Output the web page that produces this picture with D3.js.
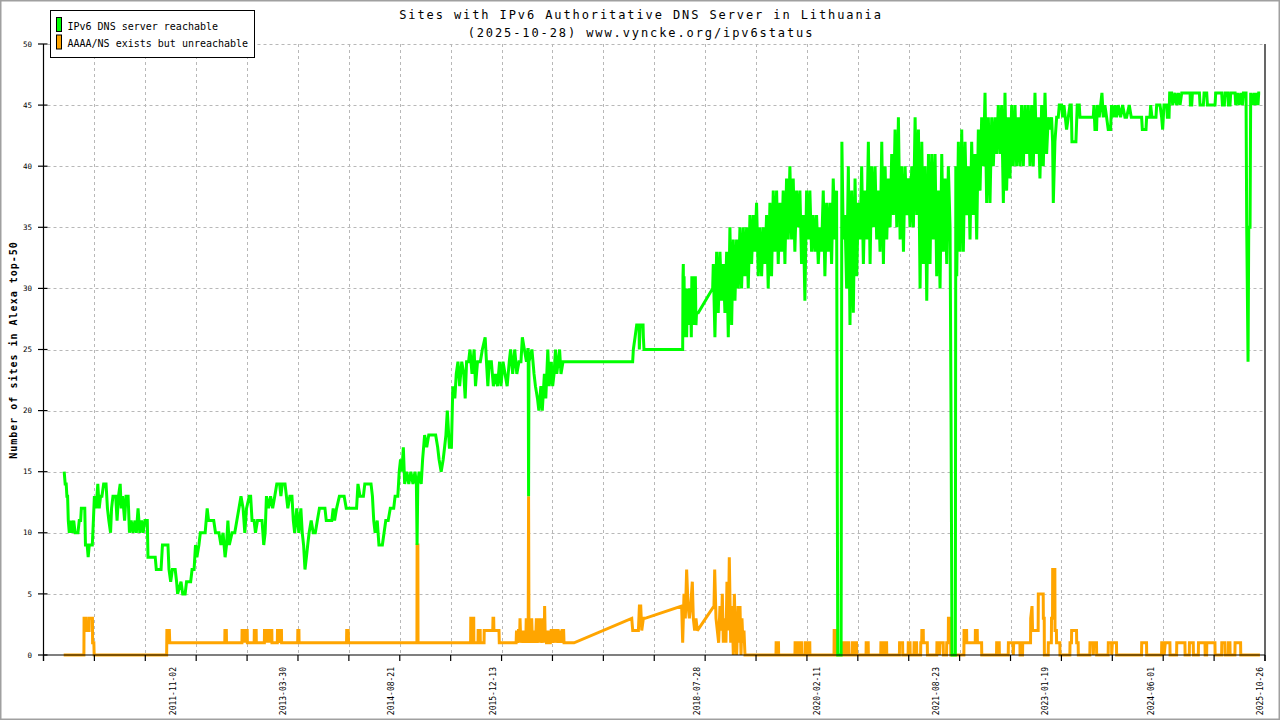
<!DOCTYPE html>
<html><head><meta charset="utf-8">
<script src="https://cdn.jsdelivr.net/npm/d3@7"></script>
<style>html,body{margin:0;padding:0;background:#fff;overflow:hidden}svg{display:block}</style>
</head><body>
<svg id="chart" width="1280" height="720"></svg>
<script>
// ---------- data ----------
const titleLines = ["Sites with IPv6 Authoritative DNS Server in Lithuania", "(2025-10-28) www.vyncke.org/ipv6status"];
const seriesNames = ["IPv6 DNS server reachable", "AAAA/NS exists but unreachable"];
const seriesColors = ["#00ff00", "#ffa500"];
const yAxisTitle = "Number of sites in Alexa top-50";
const yTickValues = [0, 5, 10, 15, 20, 25, 30, 35, 40, 45, 50];
const xLabelDates = ["2011-11-02", "2013-03-30", "2014-08-21", "2015-12-13", "2018-07-28", "2020-02-11", "2021-08-23", "2023-01-19", "2024-06-01", "2025-10-26"];
const xDomainDates = ["2010-03-04", "2025-11-19"];
const xTickCount = 25;

// [decimal year, sites]
const reachable = [
[2010.436,15],[2010.449,14],[2010.462,14],[2010.471,13],[2010.48,13],[2010.489,11],[2010.502,10],[2010.524,11],[2010.537,10],[2010.559,11],[2010.577,10],[2010.613,10],[2010.63,11],[2010.648,11],[2010.657,12],[2010.701,12],[2010.71,9],[2010.732,9],[2010.745,8],[2010.759,9],[2010.798,9],[2010.812,11],[2010.825,13],[2010.847,12],[2010.869,14],[2010.887,12],[2010.905,13],[2010.922,13],[2010.944,14],[2010.975,14],[2010.993,12],[2011.011,11],[2011.033,10],[2011.046,12],[2011.064,13],[2011.099,13],[2011.117,11],[2011.135,13],[2011.157,14],[2011.17,12],[2011.188,13],[2011.214,11],[2011.232,13],[2011.259,13],[2011.276,10],[2011.298,11],[2011.321,10],[2011.347,11],[2011.365,10],[2011.387,12],[2011.409,10],[2011.431,11],[2011.453,10],[2011.475,11],[2011.506,11],[2011.515,8],[2011.608,8],[2011.622,7],[2011.683,7],[2011.701,9],[2011.772,9],[2011.785,7],[2011.807,6],[2011.829,7],[2011.865,7],[2011.883,6],[2011.896,5],[2011.94,6],[2011.962,5],[2011.993,5],[2012.011,6],[2012.064,6],[2012.082,7],[2012.108,7],[2012.126,9],[2012.144,8],[2012.17,9],[2012.188,10],[2012.25,10],[2012.276,12],[2012.294,11],[2012.36,11],[2012.383,10],[2012.427,10],[2012.453,9],[2012.48,10],[2012.506,8],[2012.524,9],[2012.542,11],[2012.56,9],[2012.595,10],[2012.63,10],[2012.657,11],[2012.684,12],[2012.71,13],[2012.737,12],[2012.759,10],[2012.781,12],[2012.816,13],[2012.834,13],[2012.852,11],[2012.878,11],[2012.896,10],[2012.922,11],[2012.98,11],[2013.002,9],[2013.02,10],[2013.037,13],[2013.064,12],[2013.09,13],[2013.117,12],[2013.144,13],[2013.17,14],[2013.206,14],[2013.223,13],[2013.241,14],[2013.276,14],[2013.294,13],[2013.312,12],[2013.338,13],[2013.365,13],[2013.383,11],[2013.4,10],[2013.427,12],[2013.453,10],[2013.48,12],[2013.498,10],[2013.515,9],[2013.533,7],[2013.551,8],[2013.568,9],[2013.586,10],[2013.613,11],[2013.639,10],[2013.666,10],[2013.692,11],[2013.719,12],[2013.79,12],[2013.807,11],[2013.878,11],[2013.896,12],[2013.914,11],[2013.94,12],[2013.976,13],[2014.037,13],[2014.064,12],[2014.197,12],[2014.215,14],[2014.241,13],[2014.285,13],[2014.303,14],[2014.383,14],[2014.401,13],[2014.418,11],[2014.436,10],[2014.463,11],[2014.485,9],[2014.529,9],[2014.551,10],[2014.573,11],[2014.604,11],[2014.631,12],[2014.675,12],[2014.693,13],[2014.728,13],[2014.746,15],[2014.763,16],[2014.781,15],[2014.799,17],[2014.816,14],[2014.843,15],[2014.869,14],[2014.896,15],[2014.923,14],[2014.949,15],[2014.967,14],[2014.976,9],[2014.985,14],[2015.002,15],[2015.029,14],[2015.047,16],[2015.073,18],[2015.1,17],[2015.126,18],[2015.215,18],[2015.241,17],[2015.259,16],[2015.286,15],[2015.312,16],[2015.33,17],[2015.347,18],[2015.365,20],[2015.392,17],[2015.418,17],[2015.436,22],[2015.462,21],[2015.48,23],[2015.502,24],[2015.524,22],[2015.551,24],[2015.577,23],[2015.595,21],[2015.613,24],[2015.639,24],[2015.657,25],[2015.683,23],[2015.71,25],[2015.728,22],[2015.754,24],[2015.79,24],[2015.816,25],[2015.852,26],[2015.869,24],[2015.887,22],[2015.905,24],[2015.932,24],[2015.958,22],[2015.985,23],[2016.011,22],[2016.038,24],[2016.056,22],[2016.082,24],[2016.108,23],[2016.135,22],[2016.162,24],[2016.179,25],[2016.206,23],[2016.232,25],[2016.259,23],[2016.286,24],[2016.312,24],[2016.33,26],[2016.356,25],[2016.383,24],[2016.4,25],[2016.405,25],[2016.41,13],[2016.415,24],[2016.453,25],[2016.48,23],[2016.498,22],[2016.524,21],[2016.542,20],[2016.568,22],[2016.586,20],[2016.613,23],[2016.631,21],[2016.657,25],[2016.675,22],[2016.701,24],[2016.719,22],[2016.737,23],[2016.755,25],[2016.772,23],[2016.79,24],[2016.808,25],[2016.826,23],[2016.852,24],
[2017.748,24],[2017.757,25],[2017.779,26],[2017.8,27],[2017.83,27],[2017.834,25],[2017.845,27],[2017.882,27],[2017.886,26],[2017.894,25],[2018.392,25],[2018.396,31],[2018.40,32],[2018.405,26],[2018.41,31],[2018.416,26],[2018.422,30],[2018.43,26],[2018.436,30],[2018.443,26],[2018.45,29],[2018.458,27],[2018.465,30],[2018.472,27],[2018.48,30],[2018.488,27],[2018.495,29],[2018.503,26],[2018.51,31],[2018.518,27],[2018.526,29],[2018.533,27],[2018.54,31],[2018.548,27],[2018.555,31],[2018.563,27],[2018.57,28],[2018.593,28],[2018.778,30],
[2018.786,32],[2018.807,26],[2018.829,33],[2018.85,28],[2018.872,33],[2018.893,29],[2018.915,32],[2018.936,28],[2018.958,33],[2018.979,26],[2019.0,35],[2019.022,27],[2019.043,34],[2019.065,29],[2019.086,34],[2019.108,30],[2019.129,35],[2019.15,30],[2019.172,35],[2019.193,31],[2019.215,35],[2019.236,30],[2019.258,36],[2019.279,32],[2019.301,36],[2019.322,33],[2019.343,37],[2019.365,31],[2019.386,35],[2019.408,31],[2019.429,35],[2019.451,32],[2019.472,36],[2019.493,30],[2019.515,37],[2019.536,31],[2019.558,38],[2019.579,33],[2019.601,38],[2019.622,32],[2019.644,37],[2019.665,33],[2019.686,38],[2019.708,32],[2019.729,39],[2019.751,34],[2019.772,40],[2019.794,34],[2019.815,39],[2019.836,33],[2019.858,38],[2019.879,35],[2019.901,38],[2019.922,32],[2019.944,36],[2019.965,29],[2019.987,38],[2020.008,34],[2020.029,38],[2020.051,33],[2020.072,36],[2020.094,33],[2020.115,36],[2020.137,32],[2020.158,35],[2020.179,33],[2020.201,38],[2020.222,31],[2020.244,37],[2020.265,33],[2020.287,37],[2020.308,32],[2020.329,39],[2020.351,34],[2020.372,38],
[2020.38,17],[2020.387,0],[2020.43,0],[2020.44,42],[2020.458,34],[2020.48,36],[2020.501,30],[2020.523,40],[2020.544,27],[2020.566,38],[2020.587,28],[2020.609,39],[2020.63,31],[2020.651,37],[2020.673,34],[2020.694,40],[2020.716,32],[2020.737,38],[2020.759,34],[2020.78,42],[2020.802,32],[2020.823,40],[2020.845,35],[2020.866,40],[2020.887,34],[2020.909,38],[2020.93,33],[2020.952,42],[2020.973,32],[2020.995,40],[2021.016,34],[2021.038,39],[2021.059,35],[2021.08,41],[2021.102,36],[2021.123,43],[2021.145,35],[2021.166,44],[2021.188,34],[2021.209,40],[2021.231,33],[2021.252,40],[2021.273,36],[2021.295,39],[2021.316,35],[2021.338,40],[2021.359,35],[2021.381,44],[2021.402,36],[2021.424,43],[2021.445,30],[2021.467,42],[2021.488,32],[2021.51,40],[2021.531,29],[2021.553,41],[2021.573,32],[2021.595,41],[2021.617,34],[2021.638,41],[2021.659,31],[2021.681,38],[2021.702,30],[2021.724,41],[2021.745,33],[2021.767,39],[2021.788,32],[2021.809,40],[2021.831,35],
[2021.844,19],[2021.856,0],[2021.899,0],[2021.905,40],[2021.917,31],[2021.938,42],[2021.96,33],[2021.981,43],[2022.002,33],[2022.024,42],[2022.045,36],[2022.067,40],[2022.088,34],[2022.109,42],[2022.131,36],[2022.152,41],[2022.174,34],[2022.195,43],[2022.217,38],[2022.238,44],[2022.26,40],[2022.281,46],[2022.302,37],[2022.324,44],[2022.345,37],[2022.367,44],[2022.388,40],[2022.41,44],[2022.431,41],[2022.452,45],[2022.474,41],
[2022.495,45],[2022.517,37],[2022.538,46],[2022.559,38],[2022.581,44],[2022.602,39],[2022.624,45],[2022.645,40],[2022.667,45],[2022.688,40],[2022.71,44],[2022.731,40],[2022.752,45],[2022.774,40],[2022.795,45],[2022.817,41],[2022.838,45],[2022.86,40],[2022.881,45],[2022.902,40],[2022.924,46],[2022.945,41],[2022.967,44],[2022.988,39],[2023.01,45],[2023.031,40],[2023.053,46],[2023.074,41],[2023.095,44],[2023.117,43],[2023.138,44],[2023.151,42],[2023.16,37],[2023.181,42],[2023.203,44],
[2023.224,44],[2023.237,45],[2023.267,45],[2023.28,44],[2023.297,45],[2023.314,44],[2023.331,43],[2023.353,44],[2023.374,45],[2023.391,45],[2023.4,42],[2023.451,42],[2023.468,45],[2023.494,45],[2023.503,44],[2023.674,44],[2023.683,45],[2023.696,43],[2023.717,43],[2023.726,45],[2023.751,44],[2023.769,45],[2023.786,46],[2023.803,44],[2023.824,45],[2023.846,44],[2023.867,43],[2023.897,43],[2023.91,45],[2023.932,44],[2023.953,45],[2023.974,44],[2023.996,45],[2024.026,44],[2024.052,45],[2024.082,44],[2024.103,44],[2024.137,45],[2024.163,44],[2024.296,44],[2024.305,43],[2024.352,43],[2024.36,44],[2024.403,44],[2024.412,45],[2024.429,44],[2024.48,44],[2024.489,45],[2024.532,45],[2024.553,44],[2024.566,43],[2024.583,45],[2024.618,45],[2024.626,44],[2024.648,44],[2024.656,46],[2024.682,46],[2024.695,45],[2024.725,46],[2024.746,45],[2024.768,46],[2024.789,45],[2024.811,46],[2024.918,46],[2024.922,45],[2024.939,45],[2024.948,46],[2025.038,46],[2025.046,45],[2025.089,45],[2025.098,46],[2025.132,46],[2025.141,45],[2025.239,45],[2025.248,46],[2025.325,46],[2025.334,45],[2025.359,45],[2025.368,46],[2025.402,46],[2025.411,45],[2025.432,45],[2025.441,46],[2025.497,46],[2025.505,45],[2025.527,46],[2025.548,45],[2025.57,46],[2025.591,45],[2025.604,46],[2025.638,46],[2025.647,35],[2025.664,24],[2025.673,35],[2025.69,35],[2025.698,46],[2025.724,45],[2025.741,46],[2025.758,45],[2025.775,46],[2025.792,45],[2025.801,46],[2025.82,46]
];

const unreachable = [
[2010.43,0],[2010.69,0],[2010.692,3],[2010.72,3],[2010.723,2],[2010.757,2],[2010.76,3],[2010.80,3],[2010.802,1],[2010.818,1],[2010.822,0],
[2011.755,0],[2011.758,2],[2011.79,2],[2011.795,1],
[2012.502,1],[2012.504,2],[2012.522,2],[2012.524,1],
[2012.722,1],[2012.724,2],[2012.74,2],[2012.744,1],[2012.75,2],[2012.764,2],[2012.767,1],[2012.776,2],[2012.79,2],[2012.792,1],
[2012.879,1],[2012.881,2],[2012.905,2],[2012.907,1],
[2013.01,1],[2013.012,2],[2013.03,2],[2013.034,1],[2013.04,2],[2013.06,2],[2013.064,1],[2013.07,2],[2013.09,2],[2013.094,1],[2013.1,2],[2013.106,2],[2013.108,1],
[2013.177,1],[2013.179,2],[2013.19,2],[2013.194,1],[2013.21,2],[2013.23,2],[2013.232,1],
[2013.439,1],[2013.441,2],[2013.455,2],[2013.457,1],
[2014.068,1],[2014.07,2],[2014.09,2],[2014.094,1],
[2014.974,1],[2014.976,9],[2014.986,9],[2014.988,1],
[2015.665,1],[2015.667,3],[2015.675,3],[2015.678,1],[2015.695,1],[2015.697,3],[2015.705,3],[2015.707,1],
[2015.76,1],[2015.762,2],[2015.788,2],[2015.79,1],[2015.838,1],[2015.84,2],[2015.95,2],[2015.953,3],[2015.962,3],[2015.965,2],[2016.03,2],[2016.034,1],
[2016.25,1],[2016.255,2],[2016.268,1],[2016.28,2],[2016.29,2],[2016.294,1],[2016.30,3],[2016.31,1],[2016.32,2],[2016.334,1],[2016.34,2],[2016.35,1],[2016.36,2],[2016.374,1],[2016.38,3],[2016.39,1],[2016.40,2],[2016.405,2],[2016.41,13],[2016.415,2],[2016.42,1],[2016.43,2],[2016.44,1],[2016.45,3],[2016.46,1],[2016.47,2],[2016.48,1],[2016.49,2],[2016.50,1],[2016.51,3],[2016.52,1],[2016.53,2],[2016.54,3],[2016.55,1],[2016.56,3],[2016.57,1],[2016.58,2],[2016.59,1],[2016.60,3],[2016.61,1],[2016.616,4],[2016.625,1],[2016.63,2],[2016.64,1],[2016.66,1],[2016.665,2],[2016.675,1],[2016.69,1],[2016.70,2],[2016.72,2],[2016.725,1],[2016.74,2],[2016.76,2],[2016.765,1],[2016.775,2],[2016.79,2],[2016.80,1],[2016.814,2],[2016.83,1],[2016.84,2],[2016.86,2],[2016.865,1],[2016.994,1],
[2017.736,3],[2017.749,2],[2017.822,2],[2017.835,4],[2017.852,4],[2017.865,2],[2017.886,3],[2017.907,3],
[2018.379,4],[2018.392,1],[2018.409,5],[2018.426,3],[2018.443,7],[2018.461,4],[2018.478,3],[2018.495,4],[2018.516,6],[2018.529,3],[2018.546,2],[2018.563,3],[2018.581,2],
[2018.795,4],[2018.804,7],[2018.821,3],[2018.838,2],[2018.855,1],[2018.872,4],[2018.89,2],[2018.902,5],[2018.915,1],[2018.932,3],[2018.949,1],[2018.962,6],[2018.98,2],[2018.992,8],[2019.01,1],[2019.027,4],[2019.044,0],[2019.057,5],[2019.074,1],[2019.087,0],[2019.104,4],[2019.117,1],[2019.13,4],[2019.143,0],[2019.155,3],[2019.168,1],[2019.181,2],[2019.194,0],
[2019.593,0],[2019.595,1],[2019.625,1],[2019.627,0],
[2019.837,0],[2019.839,1],[2019.865,1],[2019.867,0],[2019.893,0],[2019.895,1],[2019.921,1],[2019.923,0],
[2019.966,0],[2019.968,1],[2019.985,1],[2019.987,0],[2020.009,0],[2020.011,1],[2020.028,1],[2020.03,0],
[2020.339,0],[2020.341,2],[2020.371,2],[2020.373,0],
[2020.459,0],[2020.461,1],[2020.483,1],[2020.485,0],[2020.502,0],[2020.504,1],[2020.525,1],[2020.527,0],[2020.57,0],[2020.572,1],[2020.585,1],[2020.587,0],[2020.605,0],[2020.607,1],[2020.628,1],[2020.63,0],
[2020.75,0],[2020.752,1],[2020.778,1],[2020.78,0],
[2020.939,0],[2020.941,1],[2020.963,1],[2020.965,0],[2020.982,0],[2020.984,1],[2021.014,1],[2021.016,0],
[2021.179,0],[2021.181,1],[2021.22,1],[2021.222,0],
[2021.291,0],[2021.293,1],[2021.316,1],[2021.318,0],
[2021.366,0],[2021.368,1],[2021.40,1],[2021.402,0],
[2021.452,0],[2021.454,1],[2021.466,1],[2021.468,2],[2021.486,2],[2021.488,1],[2021.538,1],[2021.54,0],
[2021.66,0],[2021.662,1],[2021.69,1],[2021.695,0],[2021.70,1],[2021.743,1],[2021.745,0],
[2021.786,0],[2021.788,1],[2021.808,1],[2021.81,3],[2021.838,3],[2021.84,0],
[2022.009,0],[2022.011,2],[2022.044,2],[2022.046,1],[2022.155,1],[2022.157,2],[2022.181,2],[2022.183,1],[2022.237,1],[2022.239,0],
[2022.429,0],[2022.431,1],[2022.464,1],[2022.466,0],
[2022.58,0],[2022.582,1],[2022.64,1],[2022.645,0],[2022.65,1],[2022.73,1],[2022.732,0],
[2022.764,0],[2022.766,1],[2022.867,1],[2022.869,3],[2022.886,4],[2022.893,2],[2022.965,2],[2022.967,5],[2023.03,5],[2023.032,3],[2023.043,3],[2023.045,0],[2023.094,0],[2023.096,1],[2023.135,1],[2023.137,3],[2023.15,3],[2023.152,7],[2023.18,7],[2023.182,2],[2023.2,2],[2023.202,1],[2023.244,1],[2023.246,0],
[2023.373,0],[2023.375,1],[2023.394,1],[2023.396,2],[2023.459,2],[2023.461,1],[2023.48,1],[2023.482,0],
[2023.63,0],[2023.632,1],[2023.67,1],[2023.675,0],[2023.68,1],[2023.716,1],[2023.718,0],
[2023.866,0],[2023.868,1],[2023.91,1],[2023.912,0],[2023.92,1],[2023.973,1],[2023.975,0],
[2024.295,0],[2024.297,1],[2024.359,1],[2024.361,0],
[2024.552,0],[2024.554,1],[2024.58,1],[2024.585,0],[2024.60,1],[2024.659,1],[2024.661,0],
[2024.745,0],[2024.747,1],[2024.852,1],[2024.854,0],
[2024.908,0],[2024.91,1],[2024.959,1],[2024.961,0],
[2025.024,0],[2025.026,1],[2025.11,1],[2025.112,0],
[2025.131,0],[2025.133,1],[2025.238,1],[2025.24,0],
[2025.324,0],[2025.326,1],[2025.367,1],[2025.369,0],
[2025.41,0],[2025.412,1],[2025.431,1],[2025.433,0],
[2025.495,0],[2025.497,1],[2025.568,1],[2025.57,0],
[2025.817,0]
];

// ---------- helpers ----------
function yearToDate(y) {
  const yr = Math.floor(y);
  const s = Date.UTC(yr, 0, 1), e = Date.UTC(yr + 1, 0, 1);
  return new Date(s + (y - yr) * (e - s));
}
const parseDate = d3.utcParse("%Y-%m-%d");

// ---------- layout ----------
const W = 1280, H = 720;
const plot = {left: 43.5, right: 1265, top: 44, bottom: 655};
const mono = "'DejaVu Sans Mono','Liberation Mono',monospace";

const svg = d3.select("#chart");
svg.append("rect").attr("x", 0.75).attr("y", 0.75).attr("width", W - 1.5).attr("height", H - 1.5)
  .attr("fill", "#fff").attr("stroke", "#a0a0a0").attr("stroke-width", 1.5);

const x = d3.scaleUtc().domain(xDomainDates.map(parseDate)).range([plot.left, plot.right]);
const y = d3.scaleLinear().domain([0, 50]).range([plot.bottom, plot.top]);

const [t0, t1] = x.domain().map(d => d.getTime());
const tickDates = d3.range(xTickCount).map(i => new Date(t0 + i * (t1 - t0) / (xTickCount - 1)));

// grid
const grid = svg.append("g").attr("stroke", "#b8b8b8").attr("stroke-width", 1).attr("stroke-dasharray", "3,3");
grid.selectAll("line.h").data(yTickValues.filter(v => v > 0)).join("line")
  .attr("x1", plot.left + 4).attr("x2", plot.right).attr("y1", d => Math.round(y(d)) + 0.5).attr("y2", d => Math.round(y(d)) + 0.5);
grid.selectAll("line.v").data(tickDates.slice(1, -1)).join("line")
  .attr("x1", d => Math.round(x(d)) + 0.5).attr("x2", d => Math.round(x(d)) + 0.5)
  .attr("y1", plot.top).attr("y2", plot.bottom);

// series
const line = d3.line().x(d => x(yearToDate(d[0]))).y(d => y(d[1]));
const seriesData = [reachable, unreachable];
[1, 0].forEach(i => {
  svg.append("path").datum(seriesData[i]).attr("d", line)
    .attr("fill", "none").attr("stroke", seriesColors[i]).attr("stroke-width", 3)
    .attr("stroke-linejoin", "miter").attr("stroke-miterlimit", 2);
});

// axes
const axes = svg.append("g").attr("stroke", "#000").attr("stroke-width", 1.2);
axes.append("line").attr("x1", plot.left).attr("x2", plot.left).attr("y1", plot.top).attr("y2", plot.bottom + 6);
axes.append("line").attr("x1", plot.right).attr("x2", plot.right).attr("y1", plot.top).attr("y2", plot.bottom + 6);
axes.append("line").attr("x1", plot.left).attr("x2", plot.right).attr("y1", plot.bottom).attr("y2", plot.bottom);
axes.selectAll("line.yt").data(yTickValues).join("line")
  .attr("x1", plot.left - 5.5).attr("x2", plot.left + 4).attr("y1", d => y(d)).attr("y2", d => y(d));
axes.selectAll("line.xt").data(tickDates).join("line")
  .attr("x1", d => x(d)).attr("x2", d => x(d)).attr("y1", plot.bottom).attr("y2", plot.bottom + 6);

svg.append("g").selectAll("text").data(yTickValues).join("text")
  .attr("x", 32).attr("y", d => y(d)).attr("dy", "0.35em")
  .attr("text-anchor", "end").attr("font-family", mono).attr("font-size", 7.5).attr("fill", "#000")
  .text(d => d);

svg.append("g").selectAll("text").data(xLabelDates).join("text")
  .attr("transform", d => `translate(${x(parseDate(d)) + 0.5},667) rotate(-90)`)
  .attr("dy", "0.35em").attr("text-anchor", "end")
  .attr("font-family", mono).attr("font-size", 8).attr("fill", "#000")
  .text(d => d);

// y axis title
svg.append("text").attr("transform", "translate(13,350) rotate(-90)")
  .attr("dy", "0.35em").attr("text-anchor", "middle")
  .attr("font-family", mono).attr("font-size", 10).attr("font-weight", "bold").attr("letter-spacing", 1)
  .attr("fill", "#000").text(yAxisTitle);

// title
svg.append("g").selectAll("text").data(titleLines).join("text")
  .attr("x", 641).attr("y", (d, i) => 18.5 + i * 18)
  .attr("text-anchor", "middle").attr("font-family", mono).attr("font-size", 12)
  .attr("letter-spacing", 1.9).attr("fill", "#000").text(d => d);

// legend
const lg = svg.append("g");
lg.append("rect").attr("x", 50.5).attr("y", 10.5).attr("width", 204).attr("height", 47)
  .attr("fill", "#fff").attr("stroke", "#000").attr("stroke-width", 1);
seriesNames.forEach((name, i) => {
  lg.append("rect").attr("x", 56.5).attr("y", 17.5 + i * 17.5).attr("width", 5).attr("height", 14)
    .attr("fill", seriesColors[i]).attr("stroke", "#000").attr("stroke-width", 1);
  lg.append("text").attr("x", 67.5).attr("y", 29.5 + i * 17.5)
    .attr("font-family", mono).attr("font-size", 10).attr("fill", "#000").text(name);
});
</script>
</body></html>
